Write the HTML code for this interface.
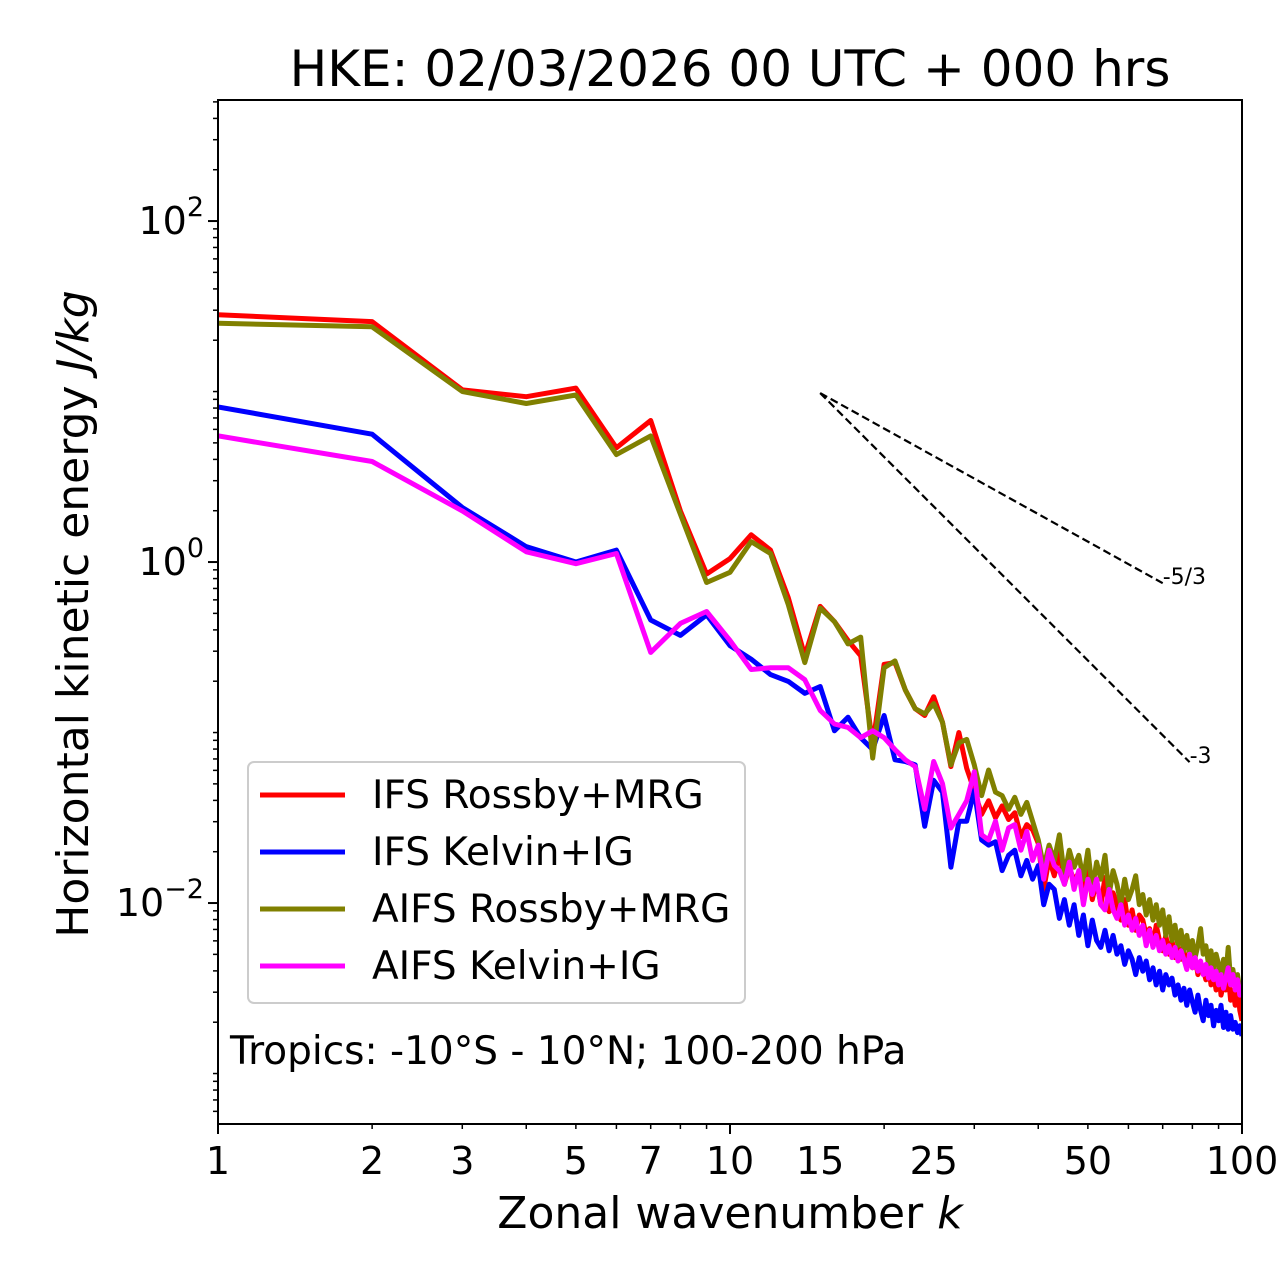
<!DOCTYPE html>
<html><head><meta charset="utf-8"><style>
html,body{margin:0;padding:0;background:#fff;}
svg{display:block;font-family:"DejaVu Sans","Liberation Sans",sans-serif;}
</style></head><body>
<svg id="chart" width="1280" height="1288" viewBox="0 0 1280 1288" xmlns="http://www.w3.org/2000/svg">
<rect width="1280" height="1288" fill="#fff"/>
<text x="730" y="86" font-size="50" text-anchor="middle">HKE: 02/03/2026 00 UTC + 000 hrs</text>
<g id="ticks"></g>
<g id="series" clip-path="url(#clip)"></g>
<clipPath id="clip"><rect x="218" y="100" width="1024" height="1024"/></clipPath>
<rect x="218" y="100" width="1024" height="1024" fill="none" stroke="#000" stroke-width="2"/>
<text x="730" y="1228" font-size="44" text-anchor="middle">Zonal wavenumber <tspan font-style="italic">k</tspan></text>
<text transform="translate(88,614) rotate(-90)" font-size="44" text-anchor="middle">Horizontal kinetic energy <tspan font-style="italic">J/kg</tspan></text>
<text x="230" y="1064" font-size="39">Tropics: -10°S - 10°N; 100-200 hPa</text>
<g>
<rect x="248" y="762" width="497" height="241" rx="6" fill="#fff" fill-opacity="0.8" stroke="#ccc" stroke-width="2"/>
<g><line x1="260" y1="795" x2="345" y2="795" stroke="#ff0000" stroke-width="5"/><text x="372" y="808" font-size="39">IFS Rossby+MRG</text></g>
<g><line x1="260" y1="852" x2="345" y2="852" stroke="#0000ff" stroke-width="5"/><text x="372" y="865" font-size="39">IFS Kelvin+IG</text></g>
<g><line x1="260" y1="909" x2="345" y2="909" stroke="#808000" stroke-width="5"/><text x="372" y="922" font-size="39">AIFS Rossby+MRG</text></g>
<g><line x1="260" y1="966" x2="345" y2="966" stroke="#ff00ff" stroke-width="5"/><text x="372" y="979" font-size="39">AIFS Kelvin+IG</text></g>
</g>
</svg>
<script>
// log10 of energy (J/kg) for k = 1..100
const ifsRossbyLog = [1.45,1.41,1.01,0.97,1.02,0.67,0.83,0.30,-0.07,0.02,0.16,0.07,-0.21,-0.55,-0.26,-0.35,-0.46,-0.55,-1.07,-0.60,-0.59,-0.75,-0.86,-0.90,-0.79,-0.94,-1.20,-1.00,-1.21,-1.34,-1.48,-1.40,-1.50,-1.43,-1.51,-1.47,-1.61,-1.54,-1.57,-1.65,-1.92,-1.74,-1.84,-1.69,-1.89,-1.79,-1.87,-1.82,-1.95,-1.79,-1.98,-1.87,-2.01,-1.85,-2.05,-1.94,-2.01,-2.10,-1.98,-2.13,-2.04,-2.16,-2.07,-2.10,-2.19,-2.15,-2.25,-2.13,-2.22,-2.28,-2.19,-2.30,-2.22,-2.32,-2.25,-2.33,-2.28,-2.36,-2.30,-2.38,-2.32,-2.42,-2.35,-2.39,-2.45,-2.36,-2.48,-2.42,-2.51,-2.39,-2.54,-2.48,-2.51,-2.42,-2.57,-2.51,-2.60,-2.48,-2.63,-2.69];
const ifsKelvinLog = [0.91,0.75,0.32,0.09,0.00,0.07,-0.34,-0.43,-0.31,-0.49,-0.57,-0.66,-0.70,-0.77,-0.73,-0.99,-0.91,-1.03,-1.10,-0.90,-1.16,-1.17,-1.19,-1.55,-1.28,-1.35,-1.79,-1.52,-1.52,-1.34,-1.63,-1.66,-1.64,-1.81,-1.72,-1.69,-1.84,-1.75,-1.86,-1.78,-2.01,-1.89,-1.92,-2.09,-1.98,-2.13,-2.01,-2.19,-2.07,-2.25,-2.10,-2.22,-2.26,-2.16,-2.28,-2.19,-2.30,-2.25,-2.36,-2.28,-2.33,-2.42,-2.32,-2.40,-2.34,-2.45,-2.38,-2.48,-2.40,-2.51,-2.42,-2.48,-2.44,-2.54,-2.48,-2.57,-2.50,-2.60,-2.51,-2.58,-2.64,-2.54,-2.63,-2.69,-2.57,-2.66,-2.60,-2.72,-2.63,-2.69,-2.60,-2.73,-2.64,-2.74,-2.66,-2.74,-2.70,-2.76,-2.72,-2.78];
const aifsRossbyLog = [1.40,1.38,1.00,0.93,0.98,0.63,0.74,0.28,-0.12,-0.06,0.12,0.05,-0.25,-0.59,-0.27,-0.35,-0.48,-0.44,-1.15,-0.62,-0.58,-0.75,-0.86,-0.89,-0.83,-0.94,-1.19,-1.06,-1.04,-1.19,-1.37,-1.22,-1.35,-1.37,-1.45,-1.38,-1.48,-1.41,-1.52,-1.63,-1.79,-1.66,-1.75,-1.60,-1.84,-1.69,-1.79,-1.72,-1.86,-1.69,-1.92,-1.76,-1.86,-1.72,-1.95,-1.81,-1.89,-2.01,-1.86,-1.98,-1.92,-1.84,-2.01,-1.95,-2.07,-1.98,-2.10,-2.01,-2.13,-2.04,-2.19,-2.08,-2.22,-2.13,-2.25,-2.16,-2.28,-2.19,-2.29,-2.22,-2.32,-2.25,-2.15,-2.30,-2.25,-2.36,-2.28,-2.39,-2.30,-2.36,-2.44,-2.33,-2.42,-2.26,-2.45,-2.39,-2.48,-2.42,-2.51,-2.48];
const aifsKelvinLog = [0.74,0.59,0.30,0.06,-0.01,0.05,-0.53,-0.36,-0.29,-0.46,-0.63,-0.62,-0.62,-0.69,-0.87,-0.95,-0.97,-1.03,-0.99,-1.03,-1.10,-1.16,-1.20,-1.45,-1.17,-1.30,-1.56,-1.48,-1.40,-1.23,-1.60,-1.63,-1.52,-1.69,-1.56,-1.54,-1.69,-1.58,-1.75,-1.66,-1.86,-1.69,-1.78,-1.81,-1.89,-1.76,-1.92,-1.81,-2.01,-1.86,-1.95,-1.86,-2.01,-2.04,-1.92,-2.04,-2.09,-2.01,-2.13,-2.07,-2.16,-2.09,-2.19,-2.13,-2.25,-2.16,-2.26,-2.19,-2.28,-2.22,-2.30,-2.25,-2.32,-2.26,-2.34,-2.28,-2.33,-2.39,-2.30,-2.38,-2.32,-2.40,-2.34,-2.42,-2.36,-2.44,-2.38,-2.45,-2.40,-2.48,-2.42,-2.50,-2.44,-2.38,-2.48,-2.42,-2.51,-2.45,-2.54,-2.48];
const xTickLabels = ["1","2","3","5","7","10","15","25","50","100"];
const xTickValues = [1,2,3,5,7,10,15,25,50,100];
const yMajorExponents = [-2,0,2];
const refStartK = 15, refStartE = 9.8;
const refSlopes = [-5/3, -3];
const refEndK = [70, 79];
const refLabels = ["-5/3", "-3"];

const X0=218, X1=1242, Y0=100, Y1=1124;
const xMinL=0, xMaxL=2, yMinL=-3.296, yMaxL=2.71;
function xs(k){return X0+(Math.log10(k)-xMinL)/(xMaxL-xMinL)*(X1-X0);}
function ysL(l){return Y1-(l-yMinL)/(yMaxL-yMinL)*(Y1-Y0);}
const NS="http://www.w3.org/2000/svg";
function mk(tag,attrs,parent){const e=document.createElementNS(NS,tag);for(const a in attrs)e.setAttribute(a,attrs[a]);parent.appendChild(e);return e;}
const ticks=document.getElementById('ticks');
for(let d=0;d<2;d++){for(let j=1;j<=10;j++){const v=j*Math.pow(10,d);if(v>100)continue;const x=xs(v);const major=(j===1||v===100);
const t=mk('line',{x1:x,x2:x,y1:Y1,y2:Y1+(major?10:5),stroke:'#000','stroke-width':major?2:1.5},ticks);

}}
xTickValues.forEach((v,i)=>{const t=mk('text',{x:xs(v),y:1174,'font-size':38,'text-anchor':'middle'},ticks);t.textContent=xTickLabels[i];

});
for(let n=-4;n<=3;n++){for(let j=1;j<10;j++){const l=n+Math.log10(j);if(l<yMinL||l>yMaxL)continue;const y=ysL(l);const major=(j===1&&yMajorExponents.includes(n));
const t=mk('line',{x1:X0-(major?10:5),x2:X0,y1:y,y2:y,stroke:'#000','stroke-width':major?2:1.5},ticks);

}}
yMajorExponents.forEach(n=>{const t=mk('text',{x:X0-14,y:ysL(n)+13,'font-size':38,'text-anchor':'end'},ticks);


t.innerHTML='10<tspan dy="-18" font-size="27">'+(n<0?'\u2212'+(-n):n)+'</tspan>';});
const g=document.getElementById('series');
function drawSeries(arr,color,name){const pts=arr.map((l,i)=>xs(i+1).toFixed(1)+','+ysL(l).toFixed(1)).join(' ');
const p=mk('polyline',{points:pts,fill:'none',stroke:color,'stroke-width':5,'stroke-linejoin':'round'},g);

}
drawSeries(ifsRossbyLog,'#ff0000','ifs-rossby-line');
drawSeries(ifsKelvinLog,'#0000ff','ifs-kelvin-line');
drawSeries(aifsRossbyLog,'#808000','aifs-rossby-line');
drawSeries(aifsKelvinLog,'#ff00ff','aifs-kelvin-line');
refSlopes.forEach((s,i)=>{const l0=Math.log10(refStartE);const l1=l0+s*(Math.log10(refEndK[i])-Math.log10(refStartK));
const ln=mk('line',{x1:xs(refStartK),y1:ysL(l0),x2:xs(refEndK[i]),y2:ysL(l1),stroke:'#000','stroke-width':2.2,'stroke-dasharray':'8,4'},g);


const t=mk('text',{x:xs(refEndK[i]),y:ysL(l1)+1,'font-size':22},document.getElementById('chart'));t.textContent=refLabels[i];

});
</script>
</body></html>
